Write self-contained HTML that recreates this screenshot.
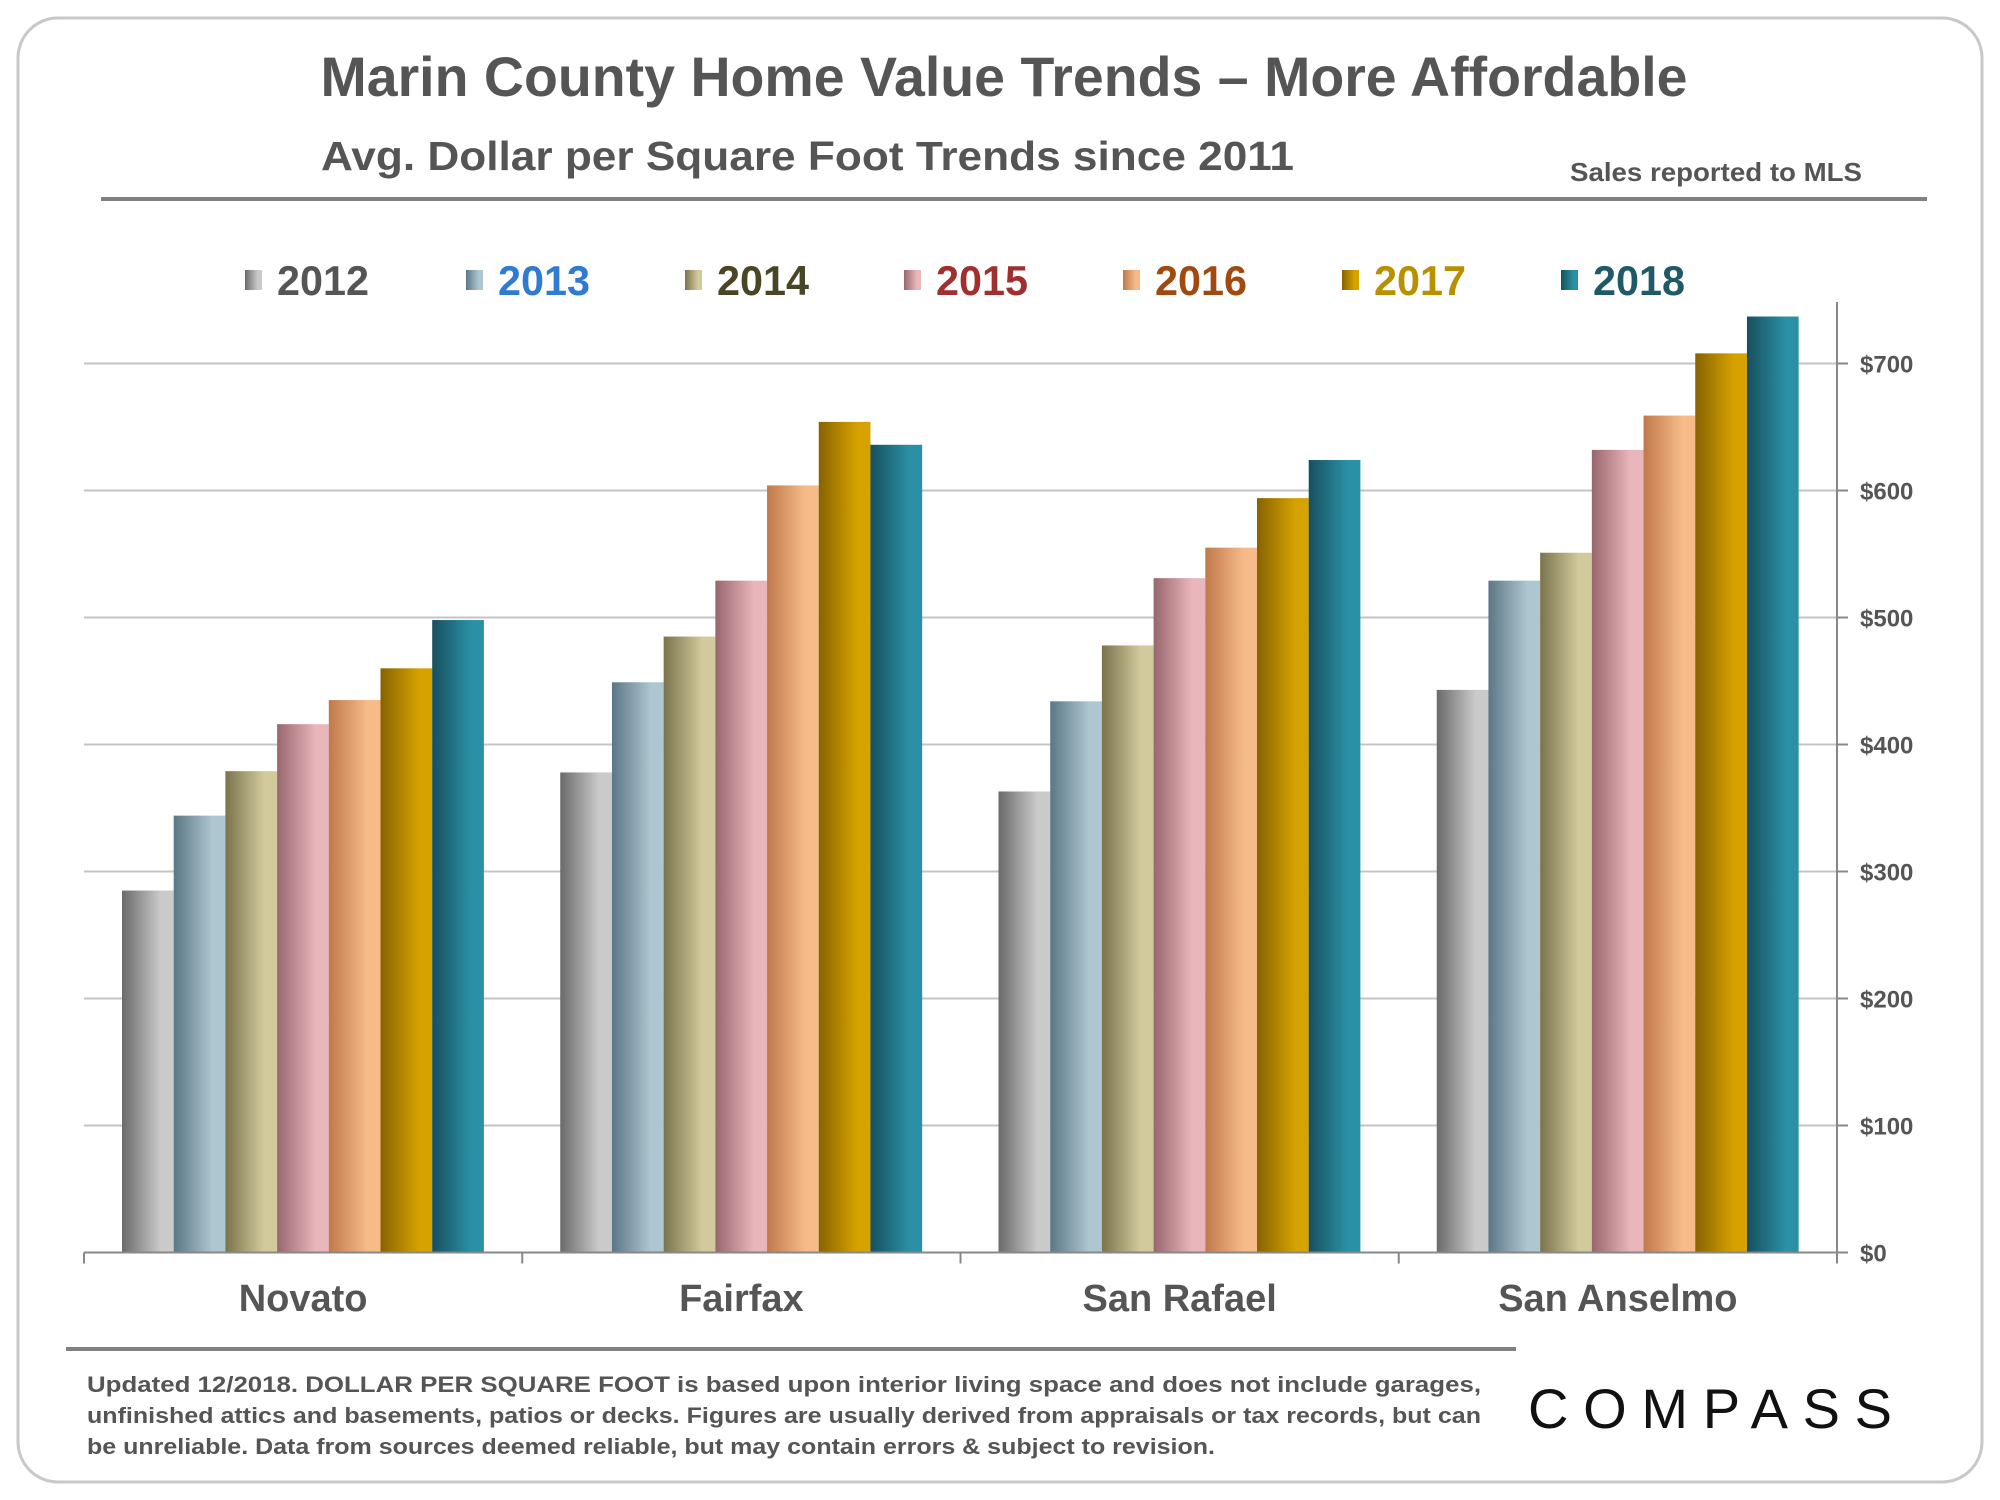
<!DOCTYPE html>
<html><head><meta charset="utf-8"><style>
html,body{margin:0;padding:0;background:#fff;}
svg{display:block;font-family:"Liberation Sans",Arial,sans-serif;}
</style></head><body>
<svg id="chart" width="2000" height="1500" viewBox="0 0 2000 1500">
<defs id="defs"></defs>
<rect x="18" y="18" width="1964" height="1464" rx="40" fill="#fff" stroke="#c8c8c8" stroke-width="3"/>
<text x="1004" y="96" text-anchor="middle" font-size="56" font-weight="bold" fill="#555" textLength="1367" lengthAdjust="spacingAndGlyphs">Marin County Home Value Trends – More Affordable</text>
<text x="321" y="170" font-size="41" font-weight="bold" fill="#555" textLength="973" lengthAdjust="spacingAndGlyphs">Avg. Dollar per Square Foot Trends since 2011</text>
<text x="1570" y="181" font-size="26" font-weight="bold" fill="#555" textLength="292" lengthAdjust="spacingAndGlyphs">Sales reported to MLS</text>
<rect x="101" y="197" width="1826" height="4" fill="#808080"/>
<g id="legend"></g>
<g id="grid"></g>
<g id="bars"></g>
<g id="axes"></g>
<rect x="66" y="1347" width="1450" height="4" fill="#808080"/>
<g font-size="22" font-weight="bold" fill="#555">
<text x="87" y="1392" textLength="1394" lengthAdjust="spacingAndGlyphs">Updated 12/2018. DOLLAR PER SQUARE FOOT is based upon interior living space and does not include garages,</text>
<text x="87" y="1423" textLength="1394" lengthAdjust="spacingAndGlyphs">unfinished attics and basements, patios or decks. Figures are usually derived from appraisals or tax records, but can</text>
<text x="87" y="1454" textLength="1128" lengthAdjust="spacingAndGlyphs">be unreliable. Data from sources deemed reliable, but may contain errors &amp; subject to revision.</text>
</g>
<text x="1528" y="1428" font-size="56" fill="#111" textLength="364" lengthAdjust="spacing">COMPASS</text>
</svg>
<script>
const categories=["Novato","Fairfax","San Rafael","San Anselmo"];
const years=["2012","2013","2014","2015","2016","2017","2018"];
const v2012=[285,378,363,443];
const v2013=[344,449,434,529];
const v2014=[379,485,478,551];
const v2015=[416,529,531,632];
const v2016=[435,604,555,659];
const v2017=[460,654,594,708];
const v2018=[498,636,624,737];
const yTicks=[0,100,200,300,400,500,600,700];
const tickLabels=["$0","$100","$200","$300","$400","$500","$600","$700"];

const series=[v2012,v2013,v2014,v2015,v2016,v2017,v2018];
const grads=[["#6a6a6a","#cacaca"],["#5b7785","#adc6d0"],["#7a734c","#d2ca9c"],["#98666d","#e9b6bb"],["#c0794a","#f7bb8a"],["#876300","#d6a200"],["#17505f","#2a90a5"]];
const legendColors=["#555555","#2f7bd0","#4a4525","#a03030","#a04a10","#b89000","#1f5a68"];
const NS="http://www.w3.org/2000/svg";
const L=84,R=1837,Y0=1252.5,PX=1.27;
function y(v){return Y0-v*PX;}
const catW=(R-L)/categories.length;
function xBar(ci,si){return L+ci*catW+38+si*51.7;}
function mk(t,a,p){const e=document.createElementNS(NS,t);for(const k in a)e.setAttribute(k,a[k]);p.appendChild(e);return e;}
const defs=document.getElementById('defs');
grads.forEach((g,i)=>{const lg=mk('linearGradient',{id:'g'+i,x1:'0',x2:'1',y1:'0',y2:'0'},defs);mk('stop',{offset:'0',"stop-color":g[0]},lg);mk('stop',{offset:'0.75',"stop-color":g[1]},lg);mk('stop',{offset:'1',"stop-color":g[1]},lg);});
const grid=document.getElementById('grid');
yTicks.forEach((t,i)=>{
 if(t>0){const l=mk('line',{x1:L,x2:R,y1:y(t),y2:y(t),stroke:'#c4c4c4','stroke-width':2},grid);
 
 }
});
const bars=document.getElementById('bars');
series.forEach((s,si)=>{s.forEach((v,ci)=>{
 const r=mk('rect',{x:xBar(ci,si),y:y(v),width:51.7,height:Y0-y(v),fill:'url(#g'+si+')'},bars);
 
 
});});
const axes=document.getElementById('axes');
mk('line',{x1:L,x2:R,y1:Y0,y2:Y0,stroke:'#888','stroke-width':2},axes);
mk('line',{x1:R,x2:R,y1:302,y2:1263,stroke:'#888','stroke-width':2},axes);
yTicks.forEach((t,i)=>{
 mk('line',{x1:R,x2:R+11,y1:y(t),y2:y(t),stroke:'#888','stroke-width':2},axes);
 const tx=mk('text',{x:1860,y:y(t)+9,'font-size':24,'font-weight':'bold',fill:'#555'},axes);
 tx.textContent=tickLabels[i];
 
 
});
for(let i=0;i<=categories.length;i++){mk('line',{x1:L+i*catW,x2:L+i*catW,y1:Y0,y2:Y0+11,stroke:'#888','stroke-width':2},axes);}
categories.forEach((c,i)=>{
 const tx=mk('text',{x:L+(i+0.5)*catW,y:1311,'text-anchor':'middle','font-size':38,'font-weight':'bold',fill:'#555'},axes);
 tx.textContent=c;
 
 
});
const leg=document.getElementById('legend');
const legX=[245,466,685,904,1123,1342,1561];
years.forEach((yr,i)=>{
 const g=mk('g',{},leg);
 
 
 mk('rect',{x:legX[i],y:270,width:17,height:20,fill:'url(#g'+i+')'},g);
 const t=mk('text',{x:legX[i]+32,y:295,'font-size':42,'font-weight':'bold',fill:legendColors[i],textLength:92,lengthAdjust:'spacingAndGlyphs'},g);
 t.textContent=yr;
});
</script>
</body></html>
